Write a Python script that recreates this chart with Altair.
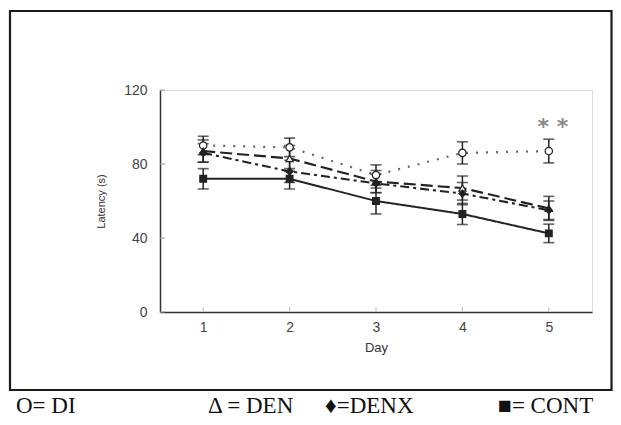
import altair as alt
import pandas as pd

# ---- data ----
days = [1, 2, 3, 4, 5]
groups = ["DI", "DEN", "DENX", "CONT"]
di_mean = [90, 89, 74, 86, 87]
di_err = [5, 5, 5.5, 6, 6.4]
den_mean = [87, 83, 70.5, 67, 56]
den_err = [6, 7, 6, 6.5, 6.5]
denx_mean = [86, 76, 69.5, 64, 55]
denx_err = [5, 6, 5, 6, 5]
cont_mean = [72, 72, 60, 53, 42.5]
cont_err = [5.5, 5.5, 7, 5.7, 5]
y_ticks = [0, 40, 80, 120]
legend_labels = ["O= DI", "\u0394 = DEN", "\u2666=DENX", "\u25a0= CONT"]
star_label = "* *"
star_day = 5
star_value = 103

rows = []
for g, m, e in [("DI", di_mean, di_err), ("DEN", den_mean, den_err),
                ("DENX", denx_mean, denx_err), ("CONT", cont_mean, cont_err)]:
    for d, mv, ev in zip(days, m, e):
        rows.append({"group": g, "day": d, "mean": mv, "lo": mv - ev, "hi": mv + ev})
df = pd.DataFrame(rows)

W, H = 432, 222
INK = "#222222"
SERIF = "Liberation Serif"
SANS = "Liberation Sans"

xs = alt.Scale(domain=[0.5, 5.5], nice=False, zero=False)
ys = alt.Scale(domain=[0, 120], nice=False)

base = alt.Chart(df)

x_enc = alt.X("day:Q", scale=xs, axis=alt.Axis(
    values=days, format="d", title="Day", ticks=False, grid=False,
    labelFontSize=14, labelColor="#444444", labelFont=SANS,
    labelPadding=8, domainColor="#333333", domainWidth=1.5,
    titleFontSize=13, titleFont=SANS, titleFontWeight="normal",
    titleColor="#333333", titlePadding=7))
y_enc = alt.Y("mean:Q", scale=ys, axis=alt.Axis(
    values=y_ticks, title="Latency (s)", ticks=False, grid=False,
    labelFontSize=14, labelColor="#444444", labelFont=SANS,
    labelPadding=13, domainColor="#333333", domainWidth=1.5,
    titleFontSize=11, titleFont=SANS, titleFontWeight="normal",
    titleColor="#333333", titlePadding=17))

stroke_scale = alt.Scale(domain=groups, range=["#666666", INK, INK, INK])
dash_scale = alt.Scale(domain=groups, range=[[2, 8], [12, 5], [9, 4, 3, 4], [1, 0]])
width_scale = alt.Scale(domain=groups, range=[2.2, 2, 2, 1.5])

lines = base.mark_line().encode(
    x=x_enc, y=y_enc,
    detail="group:N",
    color=alt.Color("group:N", scale=stroke_scale, legend=None),
    strokeDash=alt.StrokeDash("group:N", scale=dash_scale, legend=None),
    strokeWidth=alt.StrokeWidth("group:N", scale=width_scale, legend=None),
)

err = base.mark_rule(color=INK, strokeWidth=1.5).encode(
    x="day:Q", y="lo:Q", y2="hi:Q")
cap_lo = base.mark_tick(orient="horizontal", size=11, thickness=1.6, color=INK).encode(
    x="day:Q", y="lo:Q")
cap_hi = base.mark_tick(orient="horizontal", size=11, thickness=1.6, color=INK).encode(
    x="day:Q", y="hi:Q")

pts = base.mark_point(filled=True, strokeWidth=1.2, opacity=1).encode(
    x="day:Q", y="mean:Q",
    shape=alt.Shape("group:N", scale=alt.Scale(
        domain=groups, range=["circle", "triangle-up", "diamond", "square"]), legend=None),
    fill=alt.Fill("group:N", scale=alt.Scale(
        domain=groups, range=["white", "white", INK, INK]), legend=None),
    stroke=alt.value(INK),
    size=alt.Size("group:N", scale=alt.Scale(domain=groups, range=[55, 45, 40, 55]), legend=None),
)

stars = alt.Chart(pd.DataFrame({"day": [star_day], "v": [star_value], "t": [star_label]})).mark_text(
    font="DejaVu Sans", fontSize=22, fontWeight="bold", color="#8a8a8a", dx=4, dy=6, baseline="middle"
).encode(x="day:Q", y="v:Q", text="t:N")

# inward tick marks
xt = alt.Chart(pd.DataFrame({"day": days})).mark_rule(color="#bbbbbb", strokeWidth=1).encode(
    x="day:Q", y=alt.value(H - 5), y2=alt.value(H))
yt = alt.Chart(pd.DataFrame({"v": y_ticks})).mark_rule(color="#999999", strokeWidth=1).encode(
    y="v:Q", x=alt.value(0), x2=alt.value(5))

# outer frame
frame = alt.Chart(pd.DataFrame({"a": [0]})).mark_rect(
    fill=None, stroke="#1a1a1a", strokeWidth=2.2).encode(
    x=alt.value(-150), x2=alt.value(451.5), y=alt.value(-79), y2=alt.value(300))

# legend text row under the frame
leg_df = pd.DataFrame({"t": legend_labels, "px": [-144, 48, 165, 338]})
legend = alt.Chart(leg_df).mark_text(
    font=SERIF, fontSize=23, color="#111111", align="left", baseline="alphabetic"
).encode(text="t:N", x=alt.X("px:Q", scale=None), y=alt.value(323))

chart = alt.layer(frame, xt, yt, lines, err, cap_lo, cap_hi, pts, stars, legend).properties(
    width=W, height=H,
    autosize=alt.AutoSizeParams(type="none"),
    padding={"left": 152, "top": 82, "right": 21, "bottom": 105},
).configure_view(stroke=None).configure(background="white")

chart.save("out.html", embed_options={"renderer": "svg", "actions": False})
